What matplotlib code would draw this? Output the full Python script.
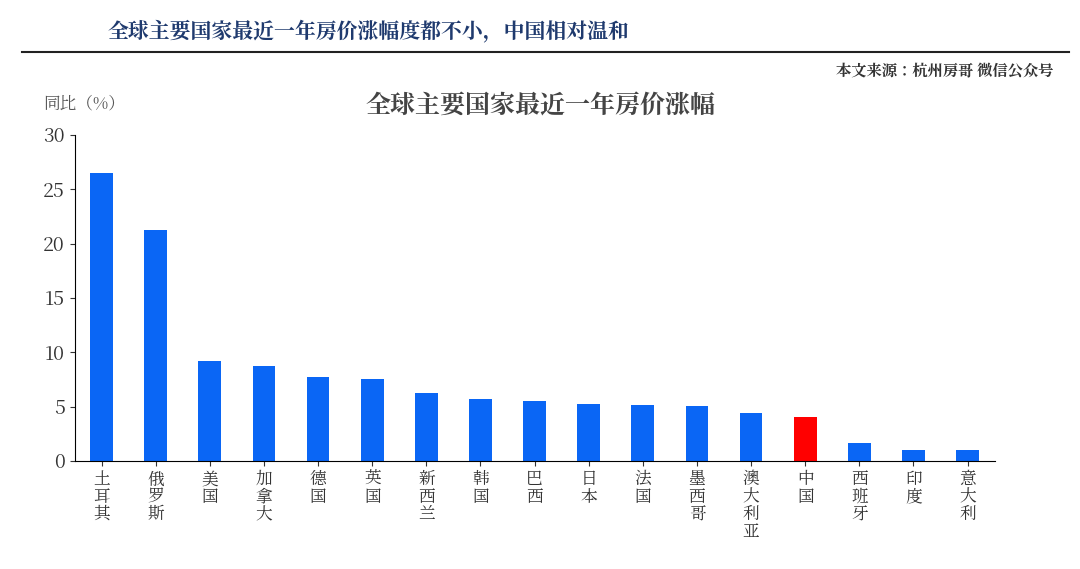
import matplotlib.pyplot as plt
from matplotlib import font_manager
import numpy as np

# find an installed CJK font
cjk = None
for f in font_manager.findSystemFonts():
    if 'CJK' in f or 'cjk' in f:
        cjk = f
        break
if cjk:
    font_manager.fontManager.addfont(cjk)
    name = font_manager.FontProperties(fname=cjk).get_name()
    plt.rcParams['font.family'] = [name, 'DejaVu Sans']
else:
    plt.rcParams['font.family'] = ['Noto Sans CJK SC', 'Noto Sans CJK JP', 'DejaVu Sans']

countries = ['土耳其', '俄罗斯', '美国', '加拿大', '德国', '英国', '新西兰', '韩国', '巴西',
             '日本', '法国', '墨西哥', '澳大利亚', '中国', '西班牙', '印度', '意大利']
growth = [26.5, 21.2, 9.2, 8.7, 7.7, 7.5, 6.25, 5.7, 5.5, 5.2, 5.1, 5.05, 4.4, 4.05, 1.65, 1.0, 1.0]

fig = plt.figure(figsize=(10.8, 5.69), dpi=100)
ax = fig.add_axes([0.069, 0.19, 0.852, 0.573])

colors = ['red' if c == '中国' else '#0a66f5' for c in countries]
x = np.arange(len(countries))
ax.bar(x, growth, width=0.42, color=colors)
ax.set_xlim(-0.5, len(countries) - 0.5)
ax.set_ylim(0, 30)
ax.set_yticks(range(0, 31, 5))
ax.set_xticks(x)
ax.set_xticklabels(['\n'.join(c) for c in countries], fontsize=12, linespacing=1.0)
ax.tick_params(axis='y', labelsize=14, colors='#333333')
ax.tick_params(axis='x', colors='#333333')
for s in ['top', 'right']:
    ax.spines[s].set_visible(False)

fig.text(0.5, 0.80, '全球主要国家最近一年房价涨幅', ha='center', fontsize=18,
         fontweight='bold', color='#444444')
fig.text(0.04, 0.81, '同比（%）', fontsize=12, color='#555555')
fig.text(0.10, 0.935, '全球主要国家最近一年房价涨幅度都不小，中国相对温和', fontsize=15,
         fontweight='bold', color='#1f3a6e')
fig.add_artist(plt.Line2D([0.02, 0.99], [0.908, 0.908], color='#222222', lw=1.5))
fig.text(0.975, 0.865, '本文来源：杭州房哥 微信公众号', ha='right', fontsize=11,
         fontweight='bold', color='#333333')

fig.savefig('out.png', dpi=100, facecolor='white')
